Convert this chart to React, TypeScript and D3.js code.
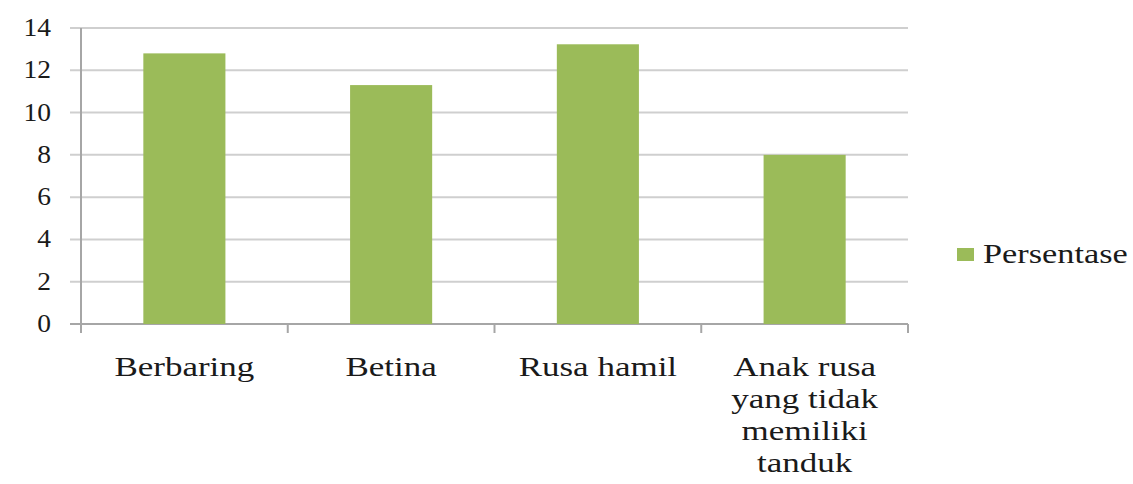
import React from "react";
import * as d3 from "d3";

const categories = ["Berbaring", "Betina", "Rusa hamil", "Anak rusa\nyang tidak\nmemiliki\ntanduk"];
const values = [12.8, 11.3, 13.23, 8.0];
const yTicks = [0, 2, 4, 6, 8, 10, 12, 14];
const seriesName = "Persentase";

export default function App() {
  const W = 1133, H = 484;
  const left = 81, right = 908, top = 28, bottom = 324;
  const x = d3.scaleBand<string>().domain(categories).range([left, right]).padding(0);
  const y = d3.scaleLinear().domain([0, 14]).range([bottom, top]);
  const barW = x.bandwidth() * 0.397;
  const font = "'Liberation Serif', 'Times New Roman', serif";
  const textColor = "#1a1a1a";
  const green = "#9BBB59";

  return (
    <svg width={W} height={H} style={{ position: "absolute", left: 0, top: 0, background: "#fff" }}>
      {/* gridlines */}
      {yTicks.map((t) => (
        <line key={"g" + t} x1={70} x2={right} y1={y(t)} y2={y(t)} stroke="#cfcfcf" strokeWidth={2} />
      ))}
      {/* y axis */}
      <line x1={left} x2={left} y1={top} y2={bottom + 9} stroke="#a6a6a6" strokeWidth={2} />
      {/* x axis */}
      <line x1={70} x2={right} y1={bottom} y2={bottom} stroke="#a6a6a6" strokeWidth={2} />
      {categories.map((c, i) => (
        <line key={"t" + i} x1={(x(c) as number)} x2={(x(c) as number)} y1={bottom} y2={bottom + 9} stroke="#a6a6a6" strokeWidth={2} />
      ))}
      <line x1={right} x2={right} y1={bottom} y2={bottom + 9} stroke="#a6a6a6" strokeWidth={2} />
      {/* bars */}
      {categories.map((c, i) => {
        const cx = (x(c) as number) + x.bandwidth() / 2;
        return (
          <rect key={"b" + i} x={cx - barW / 2} y={y(values[i])} width={barW} height={y(0) - y(values[i])} fill={green} />
        );
      })}
      {/* y tick labels */}
      {yTicks.map((t) => (
        <text key={"yl" + t} transform={`translate(51,${y(t) + 8}) scale(1.1,1)`} textAnchor="end"
          fontFamily={font} fontSize={25} fill={textColor}>{t}</text>
      ))}
      {/* category labels */}
      {categories.map((c, i) => {
        const cx = (x(c) as number) + x.bandwidth() / 2;
        const lines = c.split("\n");
        return (
          <g key={"cl" + i} transform={`translate(${cx},376) scale(1.25,1)`}>
            {lines.map((ln, j) => (
              <text key={j} x={0} y={j * 32} textAnchor="middle" fontFamily={font} fontSize={28} fill={textColor}>{ln}</text>
            ))}
          </g>
        );
      })}
      {/* legend */}
      <rect x={957} y={248} width={17} height={13} fill={green} />
      <text transform="translate(983,263) scale(1.27,1)" fontFamily={font} fontSize={27} fill={textColor}>{seriesName}</text>
    </svg>
  );
}
